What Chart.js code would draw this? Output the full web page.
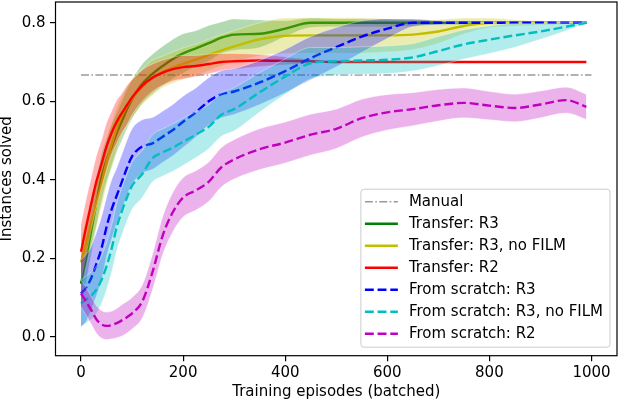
<!DOCTYPE html>
<html>
<head>
<meta charset="utf-8">
<script src="https://cdn.jsdelivr.net/npm/chart.js@4.4.0/dist/chart.umd.min.js"></script>
<style>
  body { margin: 0; background: #fff; }
  #wrap { width: 620px; height: 402px; }
</style>
</head>
<body>
<div id="wrap"><canvas id="chart" width="620" height="402"></canvas></div>
<script>
const episodes = [0, 10, 20, 30, 40, 50, 60, 70, 80, 90, 100, 120, 140, 160, 180, 200, 225, 250, 275, 300,
                  350, 400, 450, 500, 550, 600, 650, 700, 750, 800, 850, 900, 950, 990];

const manualX = [0, 1000];
const manualLevel = 0.667;

// Transfer: R3
const transferR3Mean = [0.135, 0.20, 0.27, 0.34, 0.405, 0.45, 0.485, 0.52, 0.55, 0.58, 0.605, 0.645, 0.67, 0.69, 0.708, 0.722, 0.735, 0.748, 0.762, 0.77,
                        0.772, 0.785, 0.80, 0.80, 0.80, 0.80, 0.80, 0.80, 0.80, 0.80, 0.80, 0.80, 0.80, 0.80];
const transferR3Spread = [0.06, 0.06, 0.06, 0.06, 0.06, 0.055, 0.055, 0.05, 0.05, 0.05, 0.05, 0.05, 0.05, 0.05, 0.05, 0.05, 0.045, 0.045, 0.04, 0.04,
                          0.035, 0.02, 0.012, 0.01, 0.01, 0.01, 0.008, 0.006, 0.005, 0.004, 0.003, 0.002, 0.001, 0];

// Transfer: R3, no FILM
const transferNoFilmMean = [0.19, 0.24, 0.29, 0.34, 0.39, 0.445, 0.49, 0.53, 0.563, 0.587, 0.607, 0.637, 0.66, 0.675, 0.686, 0.696, 0.706, 0.718, 0.73, 0.74,
                            0.758, 0.767, 0.768, 0.768, 0.768, 0.768, 0.77, 0.778, 0.792, 0.80, 0.80, 0.80, 0.80, 0.80];
const transferNoFilmSpread = [0.06, 0.06, 0.06, 0.06, 0.06, 0.06, 0.055, 0.055, 0.05, 0.05, 0.05, 0.045, 0.045, 0.04, 0.04, 0.04, 0.04, 0.04, 0.04, 0.04,
                              0.042, 0.045, 0.045, 0.045, 0.045, 0.042, 0.038, 0.03, 0.02, 0.012, 0.008, 0.005, 0.003, 0];

// Transfer: R2
const transferR2Mean = [0.217, 0.28, 0.34, 0.395, 0.44, 0.485, 0.52, 0.548, 0.57, 0.59, 0.61, 0.64, 0.66, 0.673, 0.682, 0.687, 0.69, 0.695, 0.70, 0.702,
                        0.704, 0.703, 0.702, 0.70, 0.70, 0.70, 0.70, 0.70, 0.70, 0.70, 0.70, 0.70, 0.70, 0.70];
const transferR2Spread = [0.07, 0.07, 0.065, 0.065, 0.06, 0.06, 0.055, 0.055, 0.05, 0.05, 0.045, 0.04, 0.035, 0.032, 0.03, 0.03, 0.027, 0.025, 0.022, 0.02,
                          0.015, 0.01, 0.005, 0, 0, 0, 0, 0, 0, 0, 0, 0, 0, 0];

// From scratch: R3
const scratchR3Mean = [0.111, 0.125, 0.15, 0.185, 0.225, 0.28, 0.325, 0.36, 0.395, 0.43, 0.46, 0.485, 0.493, 0.51, 0.527, 0.548, 0.572, 0.60, 0.618, 0.625,
                       0.648, 0.677, 0.71, 0.738, 0.765, 0.785, 0.80, 0.80, 0.80, 0.80, 0.80, 0.80, 0.80, 0.80];
const scratchR3Spread = [0.085, 0.085, 0.08, 0.08, 0.08, 0.075, 0.075, 0.07, 0.07, 0.07, 0.07, 0.068, 0.066, 0.065, 0.065, 0.065, 0.062, 0.06, 0.06, 0.058,
                         0.056, 0.055, 0.055, 0.05, 0.04, 0.025, 0.01, 0.005, 0, 0, 0, 0, 0, 0];

// From scratch: R3, no FILM
const scratchNoFilmMean = [0.085, 0.095, 0.105, 0.12, 0.145, 0.18, 0.225, 0.28, 0.32, 0.355, 0.385, 0.415, 0.455, 0.47, 0.482, 0.497, 0.515, 0.535, 0.566, 0.58,
                           0.623, 0.663, 0.697, 0.702, 0.704, 0.706, 0.712, 0.728, 0.745, 0.757, 0.768, 0.778, 0.79, 0.80];
const scratchNoFilmSpread = [0.06, 0.06, 0.06, 0.06, 0.06, 0.06, 0.06, 0.06, 0.06, 0.06, 0.06, 0.06, 0.06, 0.06, 0.06, 0.06, 0.058, 0.056, 0.055, 0.055,
                             0.05, 0.045, 0.04, 0.035, 0.035, 0.035, 0.035, 0.037, 0.037, 0.035, 0.03, 0.02, 0.01, 0];

// From scratch: R2
const scratchR2Mean = [0.111, 0.09, 0.068, 0.045, 0.032, 0.028, 0.03, 0.035, 0.042, 0.05, 0.06, 0.09, 0.165, 0.258, 0.318, 0.355, 0.373, 0.395, 0.432, 0.452,
                       0.478, 0.495, 0.515, 0.53, 0.557, 0.572, 0.58, 0.59, 0.596, 0.589, 0.583, 0.592, 0.603, 0.586];
const scratchR2Spread = [0.035, 0.035, 0.035, 0.035, 0.035, 0.035, 0.035, 0.037, 0.04, 0.04, 0.04, 0.042, 0.045, 0.048, 0.05, 0.05, 0.05, 0.05, 0.05, 0.05,
                         0.052, 0.052, 0.052, 0.05, 0.048, 0.045, 0.042, 0.04, 0.038, 0.036, 0.035, 0.034, 0.033, 0.032];

const xTicks = [0, 200, 400, 600, 800, 1000];
const xTickLabels = ['0', '200', '400', '600', '800', '1000'];
const yTicks = [0, 0.2, 0.4, 0.6, 0.8];
const yTickLabels = ['0.0', '0.2', '0.4', '0.6', '0.8'];

const FONT = 'DejaVu Sans';
const FONT_SIZE = 15;
const LINE_W = 2.4;
const DASH = [8.9, 3.8];

const series = [
    { label: 'Transfer: R3', mean: transferR3Mean, spread: transferR3Spread, rgb: '0,128,0', dash: [] },
    { label: 'Transfer: R3, no FILM', mean: transferNoFilmMean, spread: transferNoFilmSpread, rgb: '191,191,0', dash: [] },
    { label: 'Transfer: R2', mean: transferR2Mean, spread: transferR2Spread, rgb: '255,0,0', dash: [] },
    { label: 'From scratch: R3', mean: scratchR3Mean, spread: scratchR3Spread, rgb: '0,0,255', dash: DASH },
    { label: 'From scratch: R3, no FILM', mean: scratchNoFilmMean, spread: scratchNoFilmSpread, rgb: '0,191,191', dash: DASH },
    { label: 'From scratch: R2', mean: scratchR2Mean, spread: scratchR2Spread, rgb: '191,0,191', dash: DASH }
];

function points(ys) {
    return episodes.map((x, i) => ({ x: x, y: ys[i] }));
}

// datasets: manual first (bottom), then band + line for each run
const datasets = [{
    label: 'Manual',
    legend: true,
    data: manualX.map(x => ({ x: x, y: manualLevel })),
    borderColor: '#999999',
    borderWidth: 1.6,
    borderDash: [8, 2.4, 1.6, 2.4],
    pointRadius: 0,
    fill: false,
    order: 100
}];

series.forEach((s, k) => {
    const lowerIndex = datasets.length;
    const bandOrder = 99 - 2 * k;
    const edge = 'rgba(255,255,255,0.45)';
    datasets.push({
        label: s.label + ' low',
        data: points(s.mean.map((m, i) => m - s.spread[i])),
        borderColor: edge,
        borderWidth: 0.8,
        pointRadius: 0,
        fill: false,
        cubicInterpolationMode: 'monotone',
        order: bandOrder
    });
    datasets.push({
        label: s.label + ' high',
        data: points(s.mean.map((m, i) => m + s.spread[i])),
        borderColor: edge,
        borderWidth: 0.8,
        pointRadius: 0,
        backgroundColor: 'rgba(' + s.rgb + ',0.3)',
        fill: lowerIndex,
        cubicInterpolationMode: 'monotone',
        order: bandOrder
    });
    datasets.push({
        label: s.label,
        legend: true,
        data: points(s.mean),
        borderColor: 'rgb(' + s.rgb + ')',
        borderWidth: LINE_W,
        borderDash: s.dash,
        pointRadius: 0,
        fill: false,
        cubicInterpolationMode: 'monotone',
        order: bandOrder - 1
    });
});

const frame = {
    id: 'frame',
    afterDatasetsDraw(chart) {
        const { ctx, chartArea: a } = chart;
        ctx.save();
        ctx.strokeStyle = '#000';
        ctx.lineWidth = 1.2;
        ctx.strokeRect(a.left, a.top, a.right - a.left, a.bottom - a.top);
        ctx.restore();
    }
};

const legendBox = {
    id: 'legendBox',
    afterDraw(chart) {
        const ctx = chart.ctx, area = chart.chartArea;
        const entries = chart.data.datasets.filter(d => d.legend);
        ctx.save();
        ctx.font = FONT_SIZE + 'px "' + FONT + '"';
        const textW = Math.max(...entries.map(e => ctx.measureText(e.label).width));
        const rowH = 22;
        const w = 48 + textW + 7;
        const h = entries.length * rowH + 4;
        const x = area.right - 7 - w;
        const y = area.bottom - 8.5 - h;
        ctx.beginPath();
        if (ctx.roundRect) ctx.roundRect(x, y, w, h, 3); else ctx.rect(x, y, w, h);
        ctx.fillStyle = 'rgba(255,255,255,0.8)';
        ctx.fill();
        ctx.strokeStyle = '#cccccc';
        ctx.lineWidth = 1;
        ctx.stroke();
        entries.forEach((e, i) => {
            const cy = y + 12.5 + i * rowH;
            ctx.beginPath();
            ctx.setLineDash(e.borderDash || []);
            ctx.strokeStyle = e.borderColor;
            ctx.lineWidth = e.borderWidth;
            ctx.moveTo(x + 4, cy);
            ctx.lineTo(x + 37, cy);
            ctx.stroke();
            ctx.setLineDash([]);
            ctx.fillStyle = '#000';
            ctx.textBaseline = 'middle';
            ctx.textAlign = 'left';
            ctx.fillText(e.label, x + 48, cy);
        });
        ctx.restore();
    }
};

Chart.defaults.font.family = FONT;
Chart.defaults.font.size = FONT_SIZE;
Chart.defaults.color = '#000';

new Chart(document.getElementById('chart'), {
    type: 'line',
    data: { datasets: datasets },
    options: {
        responsive: false,
        animation: false,
        events: [],
        layout: { padding: { top: 2, right: 3, left: 0, bottom: 0 } },
        plugins: {
            legend: { display: false },
            tooltip: { enabled: false }
        },
        scales: {
            x: {
                type: 'linear',
                min: -50,
                max: 1050,
                afterBuildTicks: scale => { scale.ticks = xTicks.map(v => ({ value: v })); },
                afterFit: scale => {
                    scale.height = 46.3;
                    scale.paddingLeft = 0;
                    scale.paddingRight = 0;
                },
                ticks: {
                    callback: (value, i) => xTickLabels[i],
                    padding: 3,
                    maxRotation: 0
                },
                grid: { drawOnChartArea: false, drawTicks: true, tickLength: 5.5, color: '#000', lineWidth: 1.2 },
                border: { display: false },
                title: {
                    display: true,
                    text: 'Training episodes (batched)',
                    padding: { top: 0, bottom: 0.5 }
                }
            },
            y: {
                type: 'linear',
                min: -0.048,
                max: 0.853,
                afterBuildTicks: scale => { scale.ticks = yTicks.map(v => ({ value: v })); },
                afterFit: scale => {
                    scale.width = 55.5;
                    scale.paddingTop = 0;
                    scale.paddingBottom = 0;
                },
                ticks: {
                    callback: (value, i) => yTickLabels[i],
                    padding: 4.5
                },
                grid: { drawOnChartArea: false, drawTicks: true, tickLength: 5.5, color: '#000', lineWidth: 1.2 },
                border: { display: false },
                title: {
                    display: true,
                    text: 'Instances solved',
                    font: { lineHeight: 1 },
                    padding: { top: 0, bottom: 0 }
                }
            }
        }
    },
    plugins: [frame, legendBox]
});
</script>
</body>
</html>
